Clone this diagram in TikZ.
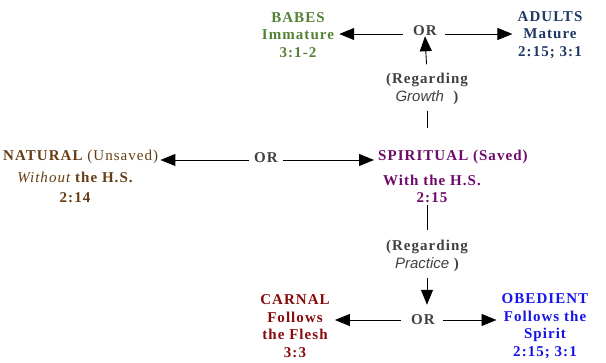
\documentclass[tikz,border=0pt]{standalone}
\usepackage{fontspec}
\setmainfont{Liberation Serif}[LetterSpace=7]
\newfontfamily\itsans{Liberation Sans}
\usepackage{tikz}
\usetikzlibrary{arrows.meta}
\definecolor{babegreen}{RGB}{84,130,53}
\definecolor{adultblue}{RGB}{31,56,100}
\definecolor{natbrown}{RGB}{102,60,20}
\definecolor{spirpurple}{RGB}{110,10,105}
\definecolor{carnred}{RGB}{135,10,10}
\definecolor{obedblue}{RGB}{20,20,235}
\definecolor{orgray}{RGB}{64,64,64}
\tikzset{
  lbl/.style    = {font=\fontsize{15}{17.5}\selectfont\bfseries, align=center, inner sep=0pt},
  ortext/.style = {lbl, text=orgray},
  regtext/.style= {lbl, text=orgray},
  tiparr/.style = {-{Triangle[length=15pt,width=12pt]}, line width=0.9pt},
  plainln/.style= {line width=0.9pt}
}
\begin{document}
\begin{tikzpicture}[x=1pt,y=-1pt]
  \useasboundingbox (0,0) rectangle (606,363);
  % growth row
  \node[ortext] (orT) at (425,31) {OR};
  \node[lbl,text=babegreen] (babes) at (298,35) {BABES\\Immature\\3:1-2};
  \node[lbl,text=adultblue] (adults) at (550,35) {ADULTS\\Mature\\2:15; 3:1};
  \node[regtext] (regG) at (427,89) {(Regarding\\{\itsans\mdseries\itshape Growth}\ \ )};
  \draw[tiparr,shorten <=10pt,shorten >=5pt] ([yshift=-3pt]orT.west) -- ([yshift=-3pt]orT.west -| babes.east);
  \draw[tiparr,shorten <=8pt,shorten >=5pt] ([yshift=-3pt]orT.east) -- ([yshift=-3pt]orT.east -| adults.west);
  \draw[tiparr,shorten <=9pt] (regG.north) -- (orT.south);
  % saved / unsaved row
  \node[ortext] (orM) at (266,158) {OR};
  \node[lbl,text=natbrown,anchor=west] (nat) at (3,157) {NATURAL {\mdseries(Unsaved)}};
  \node[lbl,text=natbrown,font=\fontsize{15}{20}\selectfont\bfseries] (natsub) at (75,187) {{\mdseries\itshape Without} the H.S.\\2:14};
  \node[lbl,text=spirpurple,anchor=west] (spir) at (378,157) {SPIRITUAL (Saved)};
  \node[lbl,text=spirpurple] (spirsub) at (432,189) {With the H.S.\\2:15};
  \draw[tiparr,shorten <=5pt,shorten >=2pt] ([yshift=-2pt]orM.west) -- ([yshift=-2pt]orM.west -| nat.east);
  \draw[tiparr,shorten <=5pt,shorten >=4pt] ([yshift=-2pt]orM.east) -- ([yshift=-2pt]orM.east -| spir.west);
  \draw[plainln,shorten <=6pt,shorten >=22pt] (regG.south) -- (regG.south |- spir.north);
  \draw[plainln,shorten <=2pt,shorten >=10pt] (spirsub.south -| regG.south) -- (regG.south |- 0,240);
  % practice row
  \node[regtext] (regP) at (427,256) {(Regarding\\{\itsans\mdseries\itshape Practice}\ )};
  \node[ortext] (orB) at (423,320) {OR};
  \node[lbl,text=carnred] (carnal) at (295,326) {CARNAL\\Follows\\the Flesh\\3:3};
  \node[lbl,text=obedblue] (obed) at (545,326) {OBEDIENT\\Follows the\\Spirit\\2:15; 3:1};
  \draw[tiparr,shorten <=6pt,shorten >=10pt] (regP.south) -- (regP.south |- orB.north);
  \draw[tiparr,shorten <=10pt,shorten >=5pt] (orB.west) -- (orB.west -| carnal.east);
  \draw[tiparr,shorten <=8pt,shorten >=5pt] (orB.east) -- (orB.east -| obed.west);
\end{tikzpicture}
\end{document}
